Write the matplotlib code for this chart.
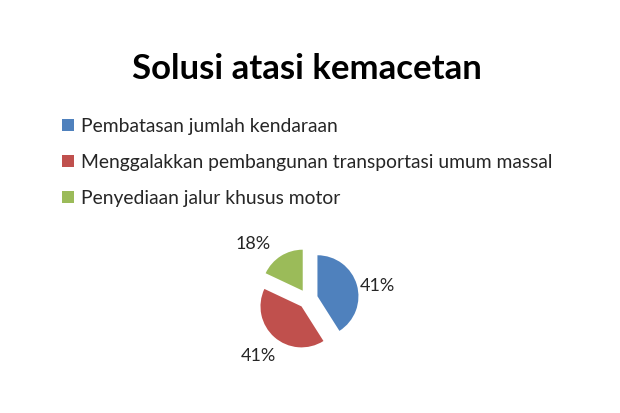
import matplotlib
matplotlib.use('Agg')
import matplotlib.pyplot as plt

plt.rcParams['font.family'] = ['Lato', 'DejaVu Sans']

title = 'Solusi atasi kemacetan'
categories = ['Pembatasan jumlah kendaraan',
              'Menggalakkan pembangunan transportasi umum massal',
              'Penyediaan jalur khusus motor']
shares = [41, 41, 18]
colors = ['#4F81BD', '#C0504D', '#9BBB59']

W, H = 620, 413
fig = plt.figure(figsize=(W / 100, H / 100), dpi=100)
fig.patch.set_facecolor('white')

# pie axes: 200x200 px box centred on the pie
cx, cy = 308, 299
box = 200
ax = fig.add_axes([(cx - box / 2) / W, (H - cy - box / 2) / H, box / W, box / H])
lim = box / 2 / 41
ax.set_aspect('equal')
ax.axis('off')

wedges, texts, autotexts = ax.pie(shares, colors=colors, startangle=90, counterclock=False,
                                  explode=[0.24] * 3, autopct='%d%%', pctdistance=1.6,
                                  textprops=dict(fontsize=13, color='#262626'),
                                  wedgeprops=dict(linewidth=0), frame=False)
ax.set_xlim(-lim, lim)
ax.set_ylim(-lim, lim)

# nudge labels a little like the original's best-fit placement
for t, (dx, dy) in zip(autotexts, [(-0.08, -0.2), (0, 0), (-0.35, -0.2)]):
    x, y = t.get_position()
    t.set_position((x + dx, y + dy))

fig.text(307 / W, 1 - 69 / H, title, ha='center', va='center',
         fontsize=25, fontweight='bold', color='black')

fig.legend(wedges, categories, loc='upper left', bbox_to_anchor=(62 / W, 1 - 118 / H),
           frameon=False, fontsize=13.9, handlelength=0.62, handleheight=0.62,
           handletextpad=0.35, labelspacing=0.98, borderpad=0, borderaxespad=0,
           labelcolor='#262626')

fig.savefig('out.png', dpi=100, facecolor='white')
